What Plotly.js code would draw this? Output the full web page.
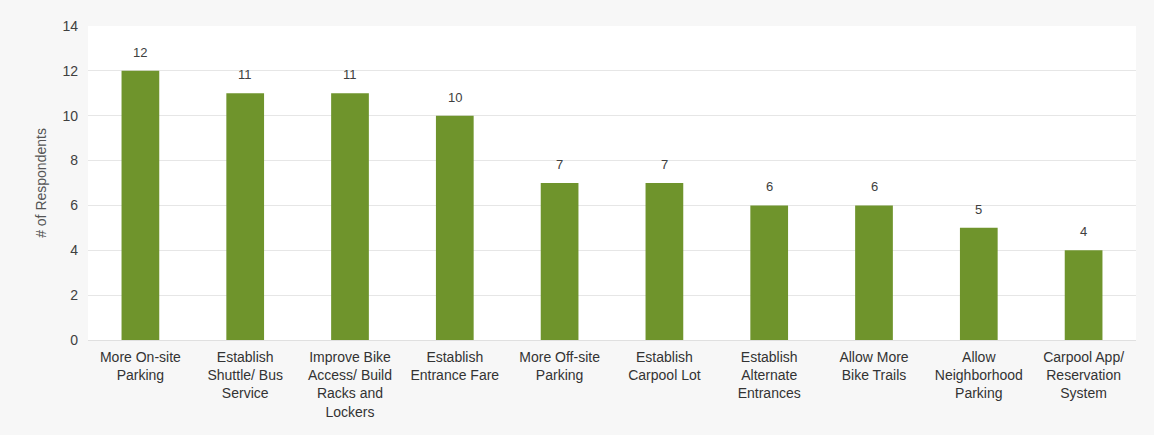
<!DOCTYPE html>
<html>
<head>
<meta charset="utf-8">
<script src="https://cdn.plot.ly/plotly-3.0.1.min.js"></script>
<style>html,body{margin:0;padding:0;background:#f7f7f7;}#chart{width:1154px;height:435px;}</style>
</head>
<body>
<div id="chart"></div>
<script>
const categories = [
  "More On-site<br>Parking",
  "Establish<br>Shuttle/ Bus<br>Service",
  "Improve Bike<br>Access/ Build<br>Racks and<br>Lockers",
  "Establish<br>Entrance Fare",
  "More Off-site<br>Parking",
  "Establish<br>Carpool Lot",
  "Establish<br>Alternate<br>Entrances",
  "Allow More<br>Bike Trails",
  "Allow<br>Neighborhood<br>Parking",
  "Carpool App/<br>Reservation<br>System"
];
const respondents = [12, 11, 11, 10, 7, 7, 6, 6, 5, 4];
const yTicks = [0, 2, 4, 6, 8, 10, 12, 14];

const trace = {
  type: "bar",
  x: categories,
  y: respondents,
  marker: {color: "#6f942c"},
  hoverinfo: "x+y"
};

const annotations = categories.map((c, i) => ({
  x: c,
  y: respondents[i],
  xref: "x",
  yref: "y",
  text: String(respondents[i]),
  showarrow: false,
  yanchor: "bottom",
  yshift: 9,
  font: {family: "Liberation Sans, Arial, sans-serif", size: 13, color: "#404040"}
}));

const layout = {
  width: 1154,
  height: 435,
  margin: {l: 88, r: 18, t: 26, b: 95},
  paper_bgcolor: "#f7f7f7",
  plot_bgcolor: "#ffffff",
  bargap: 0.64,
  showlegend: false,
  annotations: annotations,
  font: {family: "Liberation Sans, Arial, sans-serif", size: 14, color: "#333333"},
  xaxis: {
    type: "category",
    tickfont: {size: 14, color: "#333333"},
    ticks: "",
    ticklabelstandoff: 7,
    showline: false,
    showgrid: false
  },
  yaxis: {
    range: [0, 14],
    tickvals: yTicks,
    ticktext: yTicks.map(String),
    tickfont: {size: 14, color: "#404040"},
    gridcolor: "#e6e6e6",
    zeroline: true,
    zerolinecolor: "#e0e0e0",
    ticks: "",
    ticklabelstandoff: 9,
    title: {text: "# of Respondents", font: {size: 14, color: "#555555"}, standoff: 12}
  }
};

Plotly.newPlot("chart", [trace], layout, {displayModeBar: false, staticPlot: true});
</script>
</body>
</html>
